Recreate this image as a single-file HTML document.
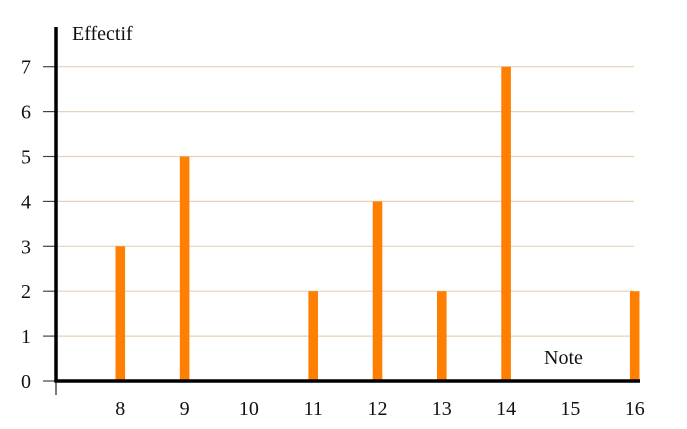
<!DOCTYPE html>
<html><head><meta charset="utf-8"><style>
html,body{margin:0;padding:0;background:#fff;}
svg{display:block;font-family:"Liberation Serif",serif;}
</style></head><body>
<svg id="chart" width="687" height="429"></svg>
<script>
const categories = [8, 9, 10, 11, 12, 13, 14, 15, 16];
const counts = [3, 5, 0, 2, 4, 2, 7, 0, 2];
const yTicks = [0, 1, 2, 3, 4, 5, 6, 7];
const xTickLabels = ["8", "9", "10", "11", "12", "13", "14", "15", "16"];
const NS = "http://www.w3.org/2000/svg";
const svg = document.getElementById("chart");
const x0 = 56, y0 = 381;
const xs = v => x0 + (v - 7) * 64.3;
const ys = v => y0 - v * 44.9;
function mk(tag, attrs, txt){const e=document.createElementNS(NS,tag);for(const k in attrs)e.setAttribute(k,attrs[k]);if(txt!==undefined)e.textContent=txt;svg.appendChild(e);return e;}
yTicks.forEach(t=>{
  if(t>0){const g=mk("line",{x1:x0,x2:634,y1:ys(t),y2:ys(t),stroke:"#e3d3b8","stroke-width":1.2});
  
  }
  const tk=mk("line",{x1:43,x2:x0,y1:ys(t),y2:ys(t),stroke:"#444","stroke-width":1.2});
  
  
  const l=mk("text",{x:26,y:ys(t)+7,"font-size":20,"text-anchor":"middle",fill:"#111"},String(t));
  
  
});
categories.forEach((c,i)=>{
  if(counts[i]>0){const b=mk("rect",{x:xs(c)-4.8,y:ys(counts[i]),width:9.6,height:y0-ys(counts[i]),fill:"#ff8000"});
  
  }
  const l=mk("text",{x:xs(c),y:415,"font-size":20,"text-anchor":"middle",fill:"#111"},xTickLabels[i]);
  
  
});
const xa=mk("line",{x1:x0-1.5,x2:640,y1:y0,y2:y0,stroke:"#000","stroke-width":3.5});


const xt=mk("line",{x1:x0,x2:x0,y1:y0,y2:395,stroke:"#222","stroke-width":1.2});


const ya=mk("line",{x1:x0,x2:x0,y1:27,y2:y0+1.5,stroke:"#000","stroke-width":3.5});


const yt=mk("text",{x:72,y:40,"font-size":20,fill:"#111"},"Effectif");


const xtl=mk("text",{x:544,y:364,"font-size":20,fill:"#111"},"Note");


</script>
</body></html>
